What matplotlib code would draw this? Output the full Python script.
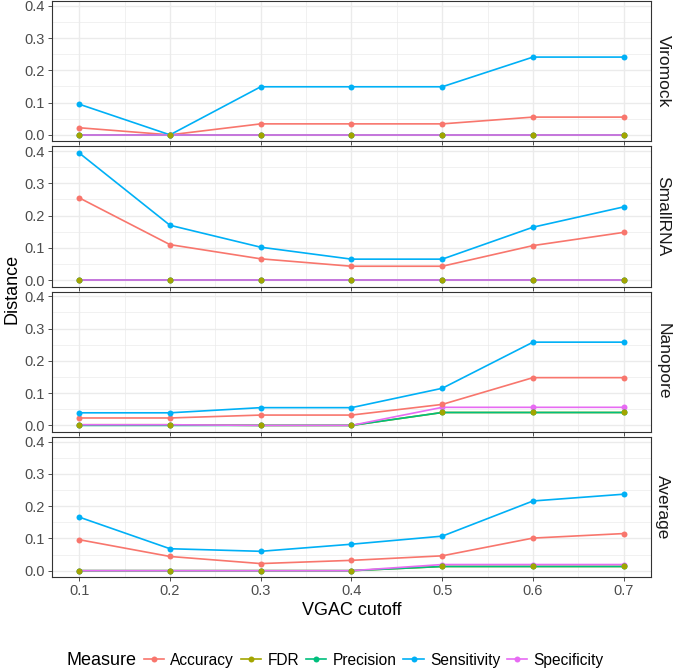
import matplotlib.pyplot as plt
from matplotlib.lines import Line2D
import numpy as np

plt.rcParams['font.family'] = ['Liberation Sans', 'DejaVu Sans']

# === dados ===
cutoff = [0.1, 0.2, 0.3, 0.4, 0.5, 0.6, 0.7]
medidas = ['Accuracy', 'FDR', 'Precision', 'Sensitivity', 'Specificity']
cores = ['#F8766D', '#A3A500', '#00BF7D', '#00B0F6', '#E76BF3']
paineis = ['Viromock', 'SmallRNA', 'Nanopore', 'Average']

viromock_acc = [0.022, 0.0, 0.034, 0.034, 0.034, 0.055, 0.055]
viromock_fdr = [0.0, 0.0, 0.0, 0.0, 0.0, 0.0, 0.0]
viromock_prec = [0.0, 0.0, 0.0, 0.0, 0.0, 0.0, 0.0]
viromock_sens = [0.095, 0.0, 0.149, 0.149, 0.149, 0.241, 0.241]
viromock_spec = [0.0, 0.0, 0.0, 0.0, 0.0, 0.0, 0.0]

smallrna_acc = [0.255, 0.110, 0.066, 0.043, 0.043, 0.107, 0.148]
smallrna_fdr = [0.0, 0.0, 0.0, 0.0, 0.0, 0.0, 0.0]
smallrna_prec = [0.0, 0.0, 0.0, 0.0, 0.0, 0.0, 0.0]
smallrna_sens = [0.394, 0.170, 0.102, 0.065, 0.065, 0.164, 0.227]
smallrna_spec = [0.0, 0.0, 0.0, 0.0, 0.0, 0.0, 0.0]

nanopore_acc = [0.023, 0.023, 0.032, 0.032, 0.065, 0.148, 0.148]
nanopore_fdr = [0.002, 0.002, 0.0, 0.0, 0.040, 0.040, 0.040]
nanopore_prec = [0.0, 0.0, 0.0, 0.0, 0.040, 0.040, 0.040]
nanopore_sens = [0.039, 0.039, 0.055, 0.055, 0.115, 0.258, 0.258]
nanopore_spec = [0.002, 0.002, 0.0, 0.0, 0.056, 0.056, 0.056]

average_acc = [0.096, 0.044, 0.022, 0.032, 0.046, 0.101, 0.115]
average_fdr = [0.0, 0.0, 0.0, 0.0, 0.013, 0.013, 0.013]
average_prec = [0.0, 0.0, 0.0, 0.0, 0.013, 0.013, 0.013]
average_sens = [0.166, 0.068, 0.060, 0.082, 0.107, 0.216, 0.237]
average_spec = [0.0, 0.0, 0.0, 0.0, 0.019, 0.019, 0.019]

dados = {
    'Viromock': [viromock_acc, viromock_fdr, viromock_prec, viromock_sens, viromock_spec],
    'SmallRNA': [smallrna_acc, smallrna_fdr, smallrna_prec, smallrna_sens, smallrna_spec],
    'Nanopore': [nanopore_acc, nanopore_fdr, nanopore_prec, nanopore_sens, nanopore_spec],
    'Average': [average_acc, average_fdr, average_prec, average_sens, average_spec],
}

# ordem de desenho dos pontos (FDR por cima, como no original)
ordem_pontos = [4, 2, 0, 3, 1]

fig, axes = plt.subplots(4, 1, figsize=(6.75, 6.71), dpi=100, sharex=True)
fig.subplots_adjust(left=0.077, right=0.9644, top=0.9985, bottom=0.14, hspace=0.036)

for ax, nome in zip(axes, paineis):
    series = dados[nome]
    for i, (serie, cor) in enumerate(zip(series, cores)):
        ax.plot(cutoff, serie, '-', color=cor, linewidth=1.2, zorder=3 + i * 0.01)
    for j, i in enumerate(ordem_pontos):
        ax.plot(cutoff, series[i], 'o', color=cores[i], markersize=4.3,
                markeredgewidth=0, zorder=4 + j * 0.01)

    ax.set_xlim(0.07, 0.73)
    ax.set_ylim(-0.0198, 0.4148)
    ax.set_xticks(cutoff)
    ax.set_xticks(np.arange(0.15, 0.7, 0.1), minor=True)
    ax.set_yticks([0.0, 0.1, 0.2, 0.3, 0.4])
    ax.set_yticks([0.05, 0.15, 0.25, 0.35], minor=True)
    ax.set_yticklabels(['0.0', '0.1', '0.2', '0.3', '0.4'])
    ax.grid(True, which='major', color='#EBEBEB', linewidth=1.0, zorder=0)
    ax.grid(True, which='minor', color='#EBEBEB', linewidth=0.5, zorder=0)
    ax.set_axisbelow(True)
    ax.tick_params(which='major', length=3, width=0.6, color='#333333',
                   labelsize=10.5, labelcolor='#4D4D4D', pad=2)
    ax.tick_params(which='minor', length=0)
    for s in ax.spines.values():
        s.set_color('#333333')
        s.set_linewidth(0.8)
    ax.text(1.02, 0.5, nome, transform=ax.transAxes, rotation=-90,
            ha='center', va='center', fontsize=12.5, color='#1A1A1A')

axes[-1].set_xticklabels([f'{c:.1f}' for c in cutoff])
axes[-1].set_xlabel('VGAC cutoff', fontsize=13, labelpad=3)
fig.text(0.018, 0.57, 'Distance', rotation=90, ha='center', va='center', fontsize=13)

# legenda horizontal na parte de baixo
handles = [Line2D([0], [0], color=c, linewidth=1.2, marker='o', markersize=4.3,
                  markeredgewidth=0) for c in cores]
fig.text(0.099, 0.016, 'Measure', ha='left', va='center', fontsize=13)
fig.legend(handles, medidas, loc='center left', bbox_to_anchor=(0.213, 0.016),
           ncol=5, frameon=False, fontsize=11.2, handlelength=1.3,
           handletextpad=0.4, columnspacing=0.45, borderaxespad=0, borderpad=0)

plt.savefig('out.png', dpi=100)
